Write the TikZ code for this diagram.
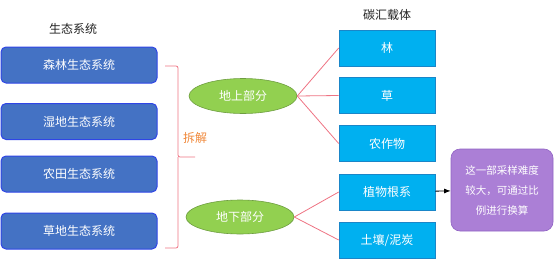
\documentclass[tikz,border=0pt]{standalone}
\usepackage{fontspec}
\setmainfont{Noto Sans CJK SC}
\usetikzlibrary{arrows.meta,positioning,shapes.geometric}
\definecolor{ecoblue}{HTML}{4472C4}
\definecolor{ecoedge}{HTML}{2F45E6}
\definecolor{sinkblue}{HTML}{00B0F0}
\definecolor{sinkedge}{HTML}{1A86C8}
\definecolor{partgreen}{HTML}{92D050}
\definecolor{partedge}{HTML}{6E9E40}
\definecolor{notepurple}{HTML}{AB7FD6}
\definecolor{noteedge}{HTML}{9163C4}
\definecolor{linkpink}{HTML}{EE7383}
\definecolor{splitorange}{HTML}{F0883A}
\definecolor{textdark}{HTML}{222222}
\tikzset{
  >=Latex,
  header/.style={font=\fontsize{12}{14}\selectfont, text=textdark},
  ecobox/.style={
    rectangle, rounded corners=5pt, draw=ecoedge, line width=1pt, fill=ecoblue,
    minimum width=156pt, minimum height=36pt, align=center,
    font=\fontsize{12}{14}\selectfont, text=white
  },
  sinkbox/.style={
    rectangle, draw=sinkedge, line width=0.6pt, fill=sinkblue,
    minimum width=96pt, minimum height=36pt, align=center,
    font=\fontsize{12}{14}\selectfont, text=white
  },
  part/.style={
    ellipse, draw=partedge, line width=0.6pt, fill=partgreen,
    minimum width=108pt, minimum height=35pt, inner sep=0pt,
    font=\fontsize{12}{14}\selectfont, text=white
  },
  notebox/.style={
    rectangle, rounded corners=9pt, draw=noteedge, line width=0.6pt, fill=notepurple,
    minimum width=102pt, minimum height=82pt, align=center,
    font=\fontsize{10.5}{20}\selectfont, text=white
  },
  link/.style={draw=linkpink, line width=0.8pt},
  arrow/.style={->, line width=0.8pt, draw=black}
}

\begin{document}
\begin{tikzpicture}[x=1pt,y=-1pt]
\useasboundingbox (0,0) rectangle (554,260);
% left column: ecosystems
\node[header] (ecotitle) at (73,29) {生态系统};
\node[ecobox] (forest) at (79,65) {森林生态系统};
\node[ecobox] (wetland) at (79,121.5) {湿地生态系统};
\node[ecobox] (farm) at (79,174) {农田生态系统};
\node[ecobox] (grass) at (79,231) {草地生态系统};
% brace
\coordinate (bracetop) at (165,66);
\coordinate (bracebot) at (165,248);
\coordinate (bracetip) at (195,157);
\draw[link, rounded corners=2pt] (bracetop) -- (178,66) -- (178,157) -- (bracetip);
\draw[link, rounded corners=2pt] (178,157) -- (178,248) -- (bracebot);
\node[font=\fontsize{12}{14}\selectfont, text=splitorange] (split) at (195,138) {拆解};
% middle: parts
\node[part] (above) at (243,96) {地上部分};
\node[part, minimum height=34pt] (below) at (240,217) {地下部分};
% right column: carriers
\node[header] (sinktitle) at (387,15) {碳汇载体};
\node[sinkbox] (wood) at (387,48) {林};
\node[sinkbox] (herb) at (387,95.5) {草};
\node[sinkbox] (crop) at (387,143.5) {农作物};
\node[sinkbox] (roots) at (387,192) {植物根系};
\node[sinkbox] (soil) at (387,240) {土壤/泥炭};
\node[notebox] (note) at (502,190) {这一部采样难度\\较大，可通过比\\例进行换算};
% links
\draw[link] (above.east) -- (wood.west);
\draw[link] (above.east) -- (herb.west);
\draw[link] (above.east) -- (crop.west);
\draw[link] (below.east) -- (roots.west);
\draw[link] (below.east) -- (soil.west);
\draw[arrow] (roots) -- (note);
\end{tikzpicture}
\end{document}
